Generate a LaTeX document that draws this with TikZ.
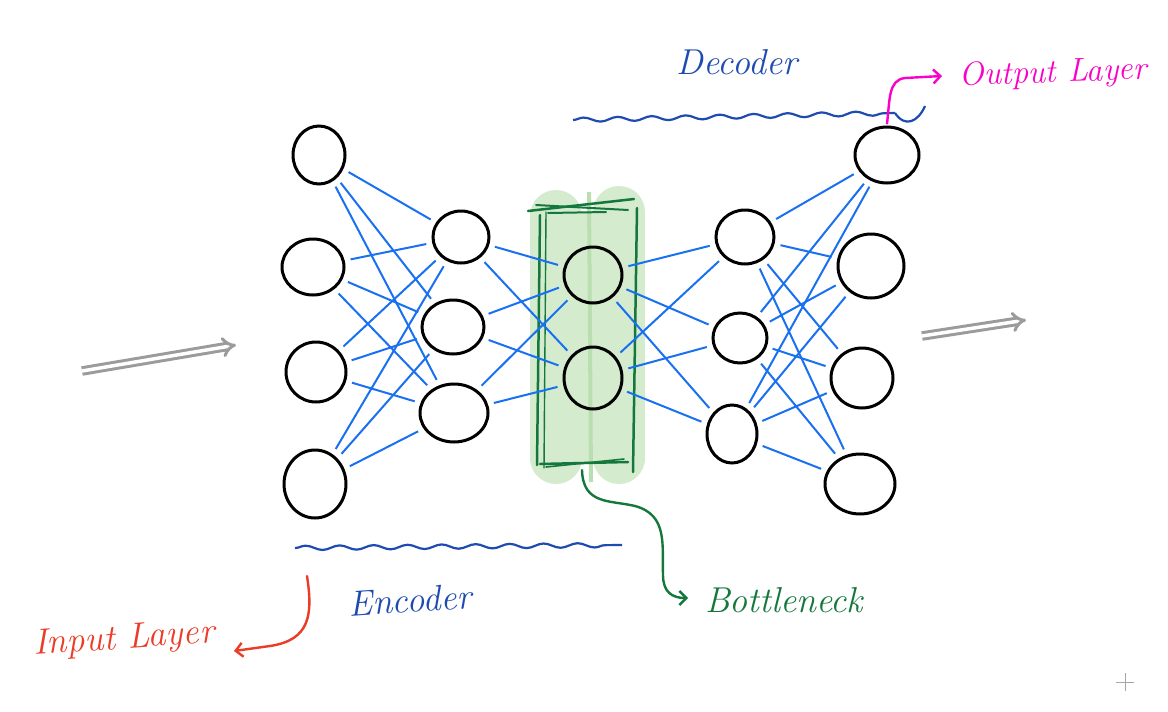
\documentclass[tikz,border=0pt]{standalone}
\usetikzlibrary{shapes.geometric,arrows.meta,decorations.pathmorphing}
\definecolor{netblue}{RGB}{25,112,240}
\definecolor{labelblue}{RGB}{30,75,175}
\definecolor{bngreen}{RGB}{20,120,60}
\definecolor{bnfill}{RGB}{212,235,206}
\definecolor{bnmid}{RGB}{185,222,176}
\definecolor{inred}{RGB}{235,60,40}
\definecolor{outmag}{RGB}{250,0,200}
\definecolor{arrgray}{RGB}{155,155,155}
\begin{document}
\begin{tikzpicture}[x=1pt,y=-1pt,
  neuron/.style={ellipse, draw=black, line width=3pt, inner sep=0pt},
  link/.style={netblue, line width=2pt, shorten >=6pt, shorten <=6pt},
  hand/.style={font=\fontsize{36}{36}\selectfont\itshape},
  wavy/.style={labelblue, line width=2.2pt, decorate, decoration={snake, segment length=34pt, amplitude=2.2pt}},
  bnline/.style={bngreen, line width=2.5pt, line cap=round},
  bigarrow/.style={arrgray, double=white, double distance=3.5pt, line width=3pt, -{Implies[length=11pt]}},
  labarrow/.style={line width=2.4pt, line cap=round, -{Straight Barb[length=7pt,width=14pt]}}]
\useasboundingbox (0,0) rectangle (1168,712);
\fill[white] (0,0) rectangle (1168,712);

% bottleneck highlight
\fill[bnfill] (530,212) rectangle (645,462);
\fill[bnfill] (556,216) circle (26pt);
\fill[bnfill] (619,212) circle (26pt);
\fill[bnfill] (556,458) circle (26pt);
\fill[bnfill] (619,458) circle (26pt);
\draw[bnmid, line width=4pt] (589,192) -- (591,482);
\draw[bnline] (540,215) -- (537,465);
\draw[bnline, line width=1.4pt] (546,212) -- (544,468);
\draw[bnline] (637,208) -- (633,472);
\draw[bnline] (528,211) -- (634,199);
\draw[bnline, line width=2pt] (536,205) -- (628,210);
\draw[bnline, line width=2pt] (548,213) -- (606,212);
\draw[bnline] (540,464) -- (628,462);
\draw[bnline, line width=1.6pt] (546,467) -- (624,459);

% neurons
\node[neuron, minimum width=52pt, minimum height=58pt] (i1) at (319,155) {};
\node[neuron, minimum width=62pt, minimum height=56pt] (i2) at (313,267) {};
\node[neuron, minimum width=60pt, minimum height=60pt] (i3) at (316,372) {};
\node[neuron, minimum width=62pt, minimum height=68pt] (i4) at (315,484) {};

\node[neuron, minimum width=56pt, minimum height=52pt] (h1) at (461,237) {};
\node[neuron, minimum width=62pt, minimum height=54pt] (h2) at (453,327) {};
\node[neuron, minimum width=68pt, minimum height=58pt] (h3) at (454,413) {};

\node[neuron, minimum width=58pt, minimum height=56pt] (b1) at (593,275) {};
\node[neuron, minimum width=58pt, minimum height=62pt] (b2) at (593,378) {};

\node[neuron, minimum width=58pt, minimum height=54pt] (d1) at (745,237) {};
\node[neuron, minimum width=54pt, minimum height=50pt] (d2) at (740,338) {};
\node[neuron, minimum width=50pt, minimum height=58pt] (d3) at (732,434) {};

\node[neuron, minimum width=64pt, minimum height=56pt] (o1) at (887,155) {};
\node[neuron, minimum width=66pt, minimum height=64pt] (o2) at (871,266) {};
\node[neuron, minimum width=62pt, minimum height=60pt] (o3) at (862,378) {};
\node[neuron, minimum width=70pt, minimum height=60pt] (o4) at (860,484) {};

% links
\foreach \a in {i1,i2,i3,i4} \foreach \b in {h1,h2,h3} \draw[link] (\a) -- (\b);
\foreach \a in {h1,h2,h3} \foreach \b in {b1,b2} \draw[link] (\a) -- (\b);
\foreach \a in {b1,b2} \foreach \b in {d1,d2,d3} \draw[link] (\a) -- (\b);
\foreach \a in {d1,d2,d3} \foreach \b in {o1,o2,o3,o4} \draw[link] (\a) -- (\b);

% big grey arrows
\coordinate (lin1) at (82,371);
\coordinate (lin2) at (236,345);
\coordinate (rout1) at (922,336);
\coordinate (rout2) at (1026,320);
\draw[bigarrow] (lin1) -- (lin2);
\draw[bigarrow] (rout1) -- (rout2);

% underlines
\coordinate (eu1) at (295,548);
\coordinate (eu2) at (622,545);
\draw[wavy] (eu1) -- (eu2);
\coordinate (du1) at (573,120);
\coordinate (du2) at (895,113);
\coordinate (du3) at (925,106);
\draw[wavy] (du1) -- (du2);
\draw[labelblue, line width=2.2pt] (du2) .. controls (905,128) and (918,122) .. (du3);

% labels
\node[hand, text=labelblue] (dec) at (737,62) {Decoder};
\node[hand, text=labelblue, rotate=4] (enc) at (410,600) {Encoder};
\node[hand, text=outmag, font=\fontsize{33}{33}\selectfont\itshape, rotate=2] (outl) at (1053,74) {Output Layer};
\node[hand, text=inred, rotate=4] (inl) at (124,640) {Input Layer};
\node[hand, text=bngreen] (bnl) at (784,600) {Bottleneck};

% label arrows
\coordinate (bnstart) at (582,470);
\coordinate (bnend) at (688,598);
\draw[labarrow, bngreen] (bnstart) .. controls (583,505) and (610,500) .. (635,506)
  .. controls (668,515) and (662,545) .. (663,575)
  .. controls (663,592) and (672,598) .. (bnend);
\coordinate (instart) at (307,576);
\coordinate (inend) at (234,651);
\draw[labarrow, inred] (instart) .. controls (313,615) and (310,640) .. (270,646) -- (inend);
\coordinate (outend) at (942,76);
\draw[labarrow, outmag] (o1.north) ++(0,-2) .. controls (890,100) and (888,80) .. (905,78) -- (outend);

% cursor cross
\draw[gray!70, line width=1pt] (1116,682) -- (1134,682);
\draw[gray!70, line width=1pt] (1125,673) -- (1125,691);
\end{tikzpicture}
\end{document}
